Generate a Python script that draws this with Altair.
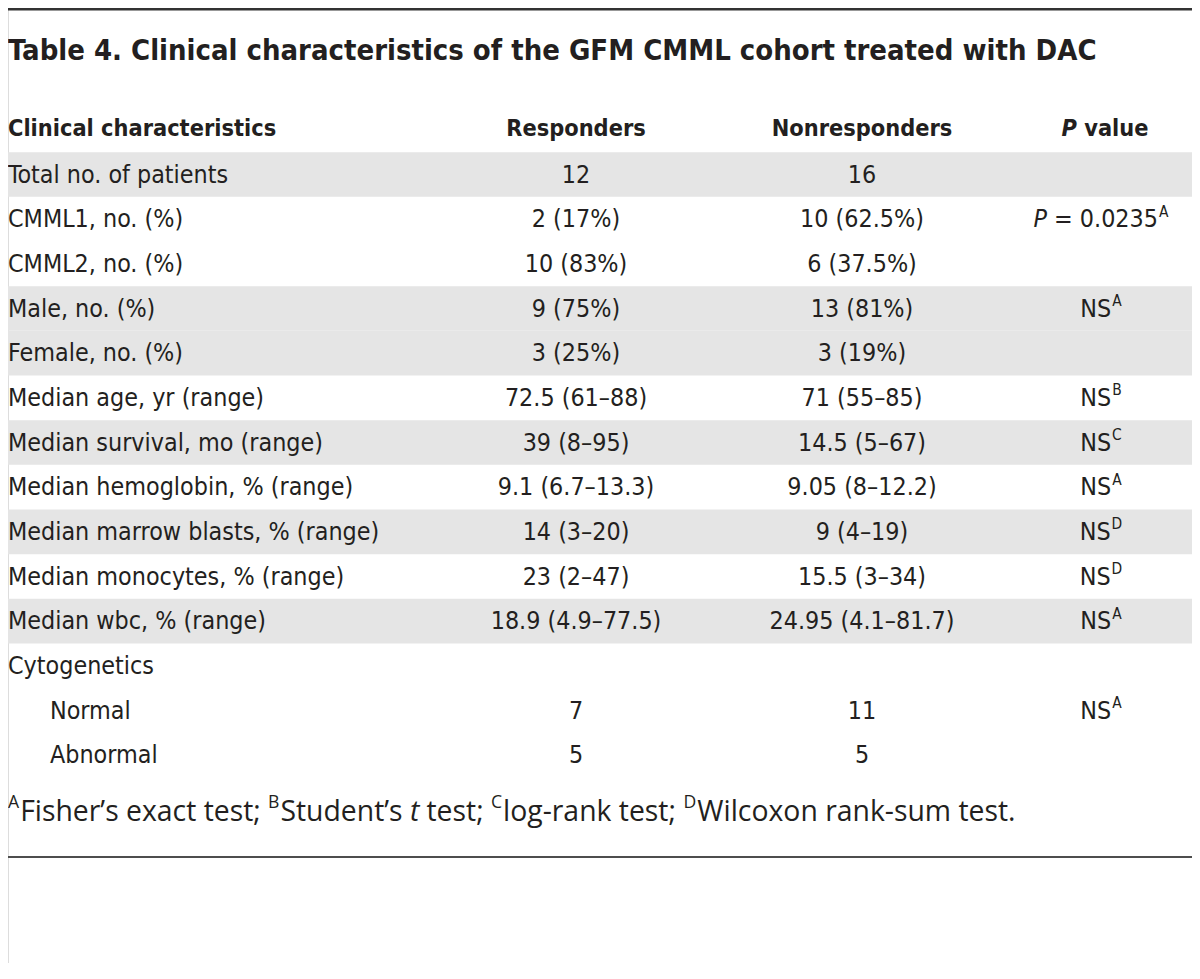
import os
import struct
import altair as alt
import pandas as pd

# ---------------- data ----------------
title_text = "Table 4. Clinical characteristics of the GFM CMML cohort treated with DAC"
header_label = "Clinical characteristics"
header_resp = "Responders"
header_nonresp = "Nonresponders"
header_p_italic = "P"
header_p_rest = " value"

labels = [
    "Total no. of patients", "CMML1, no. (%)", "CMML2, no. (%)", "Male, no. (%)",
    "Female, no. (%)", "Median age, yr (range)", "Median survival, mo (range)",
    "Median hemoglobin, % (range)", "Median marrow blasts, % (range)",
    "Median monocytes, % (range)", "Median wbc, % (range)", "Cytogenetics",
    "Normal", "Abnormal",
]
indent_level = [0, 0, 0, 0, 0, 0, 0, 0, 0, 0, 0, 0, 1, 1]
shaded = [1, 0, 0, 1, 1, 0, 1, 0, 1, 0, 1, 0, 0, 0]
responders = [
    "12", "2 (17%)", "10 (83%)", "9 (75%)", "3 (25%)", "72.5 (61–88)", "39 (8–95)",
    "9.1 (6.7–13.3)", "14 (3–20)", "23 (2–47)", "18.9 (4.9–77.5)", "", "7", "5",
]
nonresponders = [
    "16", "10 (62.5%)", "6 (37.5%)", "13 (81%)", "3 (19%)", "71 (55–85)", "14.5 (5–67)",
    "9.05 (8–12.2)", "9 (4–19)", "15.5 (3–34)", "24.95 (4.1–81.7)", "", "11", "5",
]
p_italic = ["", "P", "", "", "", "", "", "", "", "", "", "", "", ""]
p_main = ["", " = 0.0235", "", "NS", "", "NS", "NS", "NS", "NS", "NS", "NS", "", "NS", ""]
p_sup = ["", "A", "", "A", "", "B", "C", "A", "D", "D", "A", "", "A", ""]

foot_segments = ["A", "Fisher’s exact test; ", "B", "Student’s ", "t", " test; ", "C",
                 "log-rank test; ", "D", "Wilcoxon rank-sum test."]
foot_kind = ["sup", "reg", "sup", "reg", "ital", "reg", "sup", "reg", "sup", "reg"]


# ---------------- font metrics (used for layout only) ----------------
def _all_font_files():
    found = {}
    for root in ["/usr/share/fonts", "/usr/local/share/fonts",
                 os.path.expanduser("~/.fonts"), os.path.expanduser("~/.local/share/fonts")]:
        if not os.path.isdir(root):
            continue
        for dp, _, fns in os.walk(root):
            for fn in fns:
                if fn.lower().endswith((".ttf", ".otf")):
                    found.setdefault(fn.lower(), os.path.join(dp, fn))
    return found


class Metrics:
    def __init__(self, path):
        data = open(path, "rb").read()
        base = 0
        if data[:4] == b"ttcf":
            base = struct.unpack(">I", data[12:16])[0]
        num = struct.unpack(">H", data[base + 4:base + 6])[0]
        tables = {}
        for i in range(num):
            tag, _, off, ln = struct.unpack(">4sIII", data[base + 12 + 16 * i:base + 28 + 16 * i])
            tables[tag.decode("latin1")] = off
        self.upem = struct.unpack(">H", data[tables["head"] + 18:tables["head"] + 20])[0]
        hh = tables["hhea"]
        nh = struct.unpack(">H", data[hh + 34:hh + 36])[0]
        hm = tables["hmtx"]
        self.adv = [struct.unpack(">H", data[hm + 4 * i:hm + 4 * i + 2])[0] for i in range(nh)]
        cm = tables["cmap"]
        n = struct.unpack(">H", data[cm + 2:cm + 4])[0]
        best = None
        for i in range(n):
            pid, eid, off = struct.unpack(">HHI", data[cm + 4 + 8 * i:cm + 12 + 8 * i])
            fmt = struct.unpack(">H", data[cm + off:cm + off + 2])[0]
            if fmt == 4 and (pid == 3 and eid == 1 or pid == 0):
                best = cm + off
        o = best
        segx2 = struct.unpack(">H", data[o + 6:o + 8])[0]
        seg = segx2 // 2
        self.ends = struct.unpack(">%dH" % seg, data[o + 14:o + 14 + segx2])
        self.starts = struct.unpack(">%dH" % seg, data[o + 16 + segx2:o + 16 + 2 * segx2])
        self.deltas = struct.unpack(">%dh" % seg, data[o + 16 + 2 * segx2:o + 16 + 3 * segx2])
        self.rpos = o + 16 + 3 * segx2
        self.roffs = struct.unpack(">%dH" % seg, data[self.rpos:self.rpos + segx2])
        self.data = data

    def glyph(self, c):
        for i in range(len(self.ends)):
            if self.starts[i] <= c <= self.ends[i]:
                if self.roffs[i] == 0:
                    return (c + self.deltas[i]) & 0xFFFF
                addr = self.rpos + 2 * i + self.roffs[i] + 2 * (c - self.starts[i])
                g = struct.unpack(">H", self.data[addr:addr + 2])[0]
                return (g + self.deltas[i]) & 0xFFFF if g else 0
        return 0

    def width(self, text, size):
        tot = 0
        for ch in text:
            g = self.glyph(ord(ch))
            tot += self.adv[min(g, len(self.adv) - 1)]
        return tot / self.upem * size


class Approx:
    def __init__(self, em):
        self.em = em

    def width(self, text, size):
        return len(text) * self.em * size


FILES = _all_font_files()


def metrics(names, fallback_em):
    for nm in names:
        p = FILES.get(nm.lower())
        if p:
            try:
                return Metrics(p)
            except Exception:
                pass
    return Approx(fallback_em)


def find_open_sans(italic):
    for fn, p in sorted(FILES.items()):
        if "opensans" not in fn.replace("-", "").replace("_", "").replace(" ", ""):
            continue
        bad = ["bold", "semi", "light", "medium", "extra", "condensed"]
        if any(b in fn for b in bad):
            continue
        if ("italic" in fn) == italic:
            try:
                return Metrics(p)
            except Exception:
                pass
    return None


m_body = metrics(["DejaVuSansCondensed.ttf"], 0.42)
m_bold = metrics(["DejaVuSansCondensed-Bold.ttf"], 0.46)
m_bold_it = metrics(["DejaVuSansCondensed-BoldOblique.ttf", "DejaVuSansCondensed-Bold.ttf"], 0.46)
m_it = metrics(["DejaVuSansCondensed-Oblique.ttf", "DejaVuSansCondensed.ttf"], 0.42)
m_foot = find_open_sans(False) or Approx(0.47)
m_foot_it = find_open_sans(True) or m_foot


def fit(m, text, target, lo, hi):
    w1 = m.width(text, 1.0)
    if w1 <= 0:
        return (lo + hi) / 2
    return max(lo, min(hi, target / w1))


def lead_width(m, s, size):
    """width of the leading spaces (Vega trims them, so they become an x offset)"""
    k = len(s) - len(s.lstrip(" "))
    return m.width(" " * k, size)


# ---------------- layout ----------------
W, H = 1184, 955
OFF = 8                       # page margin
ROW_H = 44.67
FIRST_CENTER = 174.5          # page y of first body row centre
TEXT = "#231f20"
SHADE = "#e5e5e5"
BODY_FONT = "DejaVu Sans Condensed"
FOOT_FONT = "Open Sans"

BODY_SIZE = fit(m_body, "Median survival, mo (range)", 303 * 1.04, 22, 30)
HEAD_SIZE = fit(m_bold, header_label, 258 * 1.04, 21, 30)
TITLE_SIZE = fit(m_bold, title_text, 1093, 24, 34)
SUP_SIZE = BODY_SIZE * 0.62

X_RESP = 576 - OFF
X_NONRESP = 862 - OFF
X_PCOL = 1101 - OFF

r_top = (OFF - FIRST_CENTER) / ROW_H
r_bot = (OFF + H - FIRST_CENTER) / ROW_H
yscale = alt.Scale(domain=[r_top, r_bot], reverse=True, nice=False, zero=False)
xscale = alt.Scale(domain=[0, W], range=[0, W], nice=False, zero=False)

n = len(labels)
df = pd.DataFrame({
    "row": list(range(n)),
    "label": labels,
    "level": indent_level,
    "shaded": shaded,
    "resp": responders,
    "nonresp": nonresponders,
    "pit": p_italic,
    "pmain": [s.strip() for s in p_main],
    "psup": p_sup,
})
df["top"] = df["row"] - 0.5
df["bot"] = df["row"] + 0.5
x_it, x_main, x_sup = [], [], []
for it, mn, sp in zip(p_italic, p_main, p_sup):
    w_it = m_it.width(it, BODY_SIZE)
    w_mn = m_body.width(mn, BODY_SIZE)
    w_sp = m_body.width(sp, SUP_SIZE)
    start = X_PCOL - (w_it + w_mn + w_sp + 1) / 2
    x_it.append(start)
    x_main.append(start + w_it + lead_width(m_body, mn, BODY_SIZE))
    x_sup.append(start + w_it + w_mn + 1)
df["x_it"] = x_it
df["x_main"] = x_main
df["x_sup"] = x_sup

Y = alt.Y("row:Q", scale=yscale, axis=None)

bands = alt.Chart(df).transform_filter("datum.shaded == 1").mark_rect(color=SHADE).encode(
    y=alt.Y("top:Q", scale=yscale, axis=None), y2="bot:Q",
    x=alt.value(0), x2=alt.value(1195 - OFF),
)

body = dict(font=BODY_FONT, fontSize=BODY_SIZE, color=TEXT, baseline="middle", dy=1)

label0 = alt.Chart(df).transform_filter("datum.level == 0").mark_text(align="left", **body).encode(
    y=Y, x=alt.value(0), text="label:N")
label1 = alt.Chart(df).transform_filter("datum.level == 1").mark_text(align="left", **body).encode(
    y=Y, x=alt.value(50 - OFF), text="label:N")
resp_layer = alt.Chart(df).mark_text(align="center", **body).encode(
    y=Y, x=alt.value(X_RESP), text="resp:N")
nonresp_layer = alt.Chart(df).mark_text(align="center", **body).encode(
    y=Y, x=alt.value(X_NONRESP), text="nonresp:N")
p_it_layer = alt.Chart(df).transform_filter("datum.pit != ''").mark_text(
    align="left", fontStyle="italic", **body).encode(
    y=Y, x=alt.X("x_it:Q", scale=xscale, axis=None), text="pit:N")
p_layer = alt.Chart(df).transform_filter("datum.pmain != ''").mark_text(
    align="left", **body).encode(
    y=Y, x=alt.X("x_main:Q", scale=xscale, axis=None), text="pmain:N")
p_sup_layer = alt.Chart(df).transform_filter("datum.psup != ''").mark_text(
    align="left", font=BODY_FONT, fontSize=SUP_SIZE, color=TEXT, baseline="middle",
    dy=-0.3 * BODY_SIZE).encode(
    y=Y, x=alt.X("x_sup:Q", scale=xscale, axis=None), text="psup:N")

# header row
HEADER_Y = 128 - OFF
hdr = dict(font=BODY_FONT, fontSize=HEAD_SIZE, fontWeight="bold", color=TEXT, baseline="middle", dy=1)
one = df.head(1)
w_hp = m_bold_it.width(header_p_italic, HEAD_SIZE)
w_hv = m_bold.width(header_p_rest, HEAD_SIZE)
hp_start = X_PCOL + 4 - (w_hp + w_hv) / 2
header_layers = [
    alt.Chart(one).mark_text(align="left", text=header_label, **hdr).encode(
        x=alt.value(0), y=alt.value(HEADER_Y)),
    alt.Chart(one).mark_text(align="center", text=header_resp, **hdr).encode(
        x=alt.value(X_RESP), y=alt.value(HEADER_Y)),
    alt.Chart(one).mark_text(align="center", text=header_nonresp, **hdr).encode(
        x=alt.value(X_NONRESP), y=alt.value(HEADER_Y)),
    alt.Chart(one).mark_text(align="left", text=header_p_italic, fontStyle="italic", **hdr).encode(
        x=alt.value(hp_start), y=alt.value(HEADER_Y)),
    alt.Chart(one).mark_text(align="left", text=header_p_rest.strip(), **hdr).encode(
        x=alt.value(hp_start + w_hp + lead_width(m_bold, header_p_rest, HEAD_SIZE)),
        y=alt.value(HEADER_Y)),
]

title_layer = alt.Chart(one).mark_text(
    align="left", baseline="middle", text=title_text, font=BODY_FONT, fontSize=TITLE_SIZE,
    fontWeight="bold", color=TEXT).encode(x=alt.value(0), y=alt.value(51 - OFF))

# footnote: segments chained with font metrics, sized to the reference's width
SUP_RATIO = 0.62
SUP_GAP = 1.0


def foot_em():
    tot = 0.0
    for seg, kind in zip(foot_segments, foot_kind):
        if kind == "sup":
            tot += m_foot.width(seg, SUP_RATIO)
        elif kind == "ital":
            tot += m_foot_it.width(seg, 1.0)
        else:
            tot += m_foot.width(seg, 1.0)
    return tot


n_sup = sum(1 for k in foot_kind if k == "sup")
FOOT_SIZE = max(20, min(32, (1008 - n_sup * SUP_GAP) / max(foot_em(), 1e-6)))
FOOT_Y = 812 - OFF
foot_layers = []
cx = 0.0
for seg, kind in zip(foot_segments, foot_kind):
    if kind == "sup":
        mm, size, style, dy, gap = m_foot, FOOT_SIZE * SUP_RATIO, "normal", -0.3 * FOOT_SIZE, SUP_GAP
    elif kind == "ital":
        mm, size, style, dy, gap = m_foot_it, FOOT_SIZE, "italic", 0, 0
    else:
        mm, size, style, dy, gap = m_foot, FOOT_SIZE, "normal", 0, 0
    mk = alt.Chart(one).mark_text(align="left", baseline="middle", text=seg.strip(), font=FOOT_FONT,
                                  fontSize=size, fontStyle=style, color=TEXT, dy=dy)
    foot_layers.append(mk.encode(x=alt.value(cx + lead_width(mm, seg, size)), y=alt.value(FOOT_Y)))
    cx += mm.width(seg, size) + gap

top_rule = alt.Chart(one).mark_rule(color="#333333", strokeWidth=3).encode(
    x=alt.value(0), x2=alt.value(W), y=alt.value(1))
bottom_rule = alt.Chart(one).mark_rule(color="#4d4d4d", strokeWidth=2).encode(
    x=alt.value(0), x2=alt.value(W), y=alt.value(857 - OFF))

chart = alt.layer(
    bands, top_rule, bottom_rule, title_layer, *header_layers,
    label0, label1, resp_layer, nonresp_layer, p_it_layer, p_layer, p_sup_layer,
    *foot_layers,
).properties(width=W, height=H).configure_view(stroke=None).configure(
    padding=0, autosize=alt.AutoSizeParams(type="none"), background="white")

chart.save("out.html", embed_options={"renderer": "svg", "actions": False})
